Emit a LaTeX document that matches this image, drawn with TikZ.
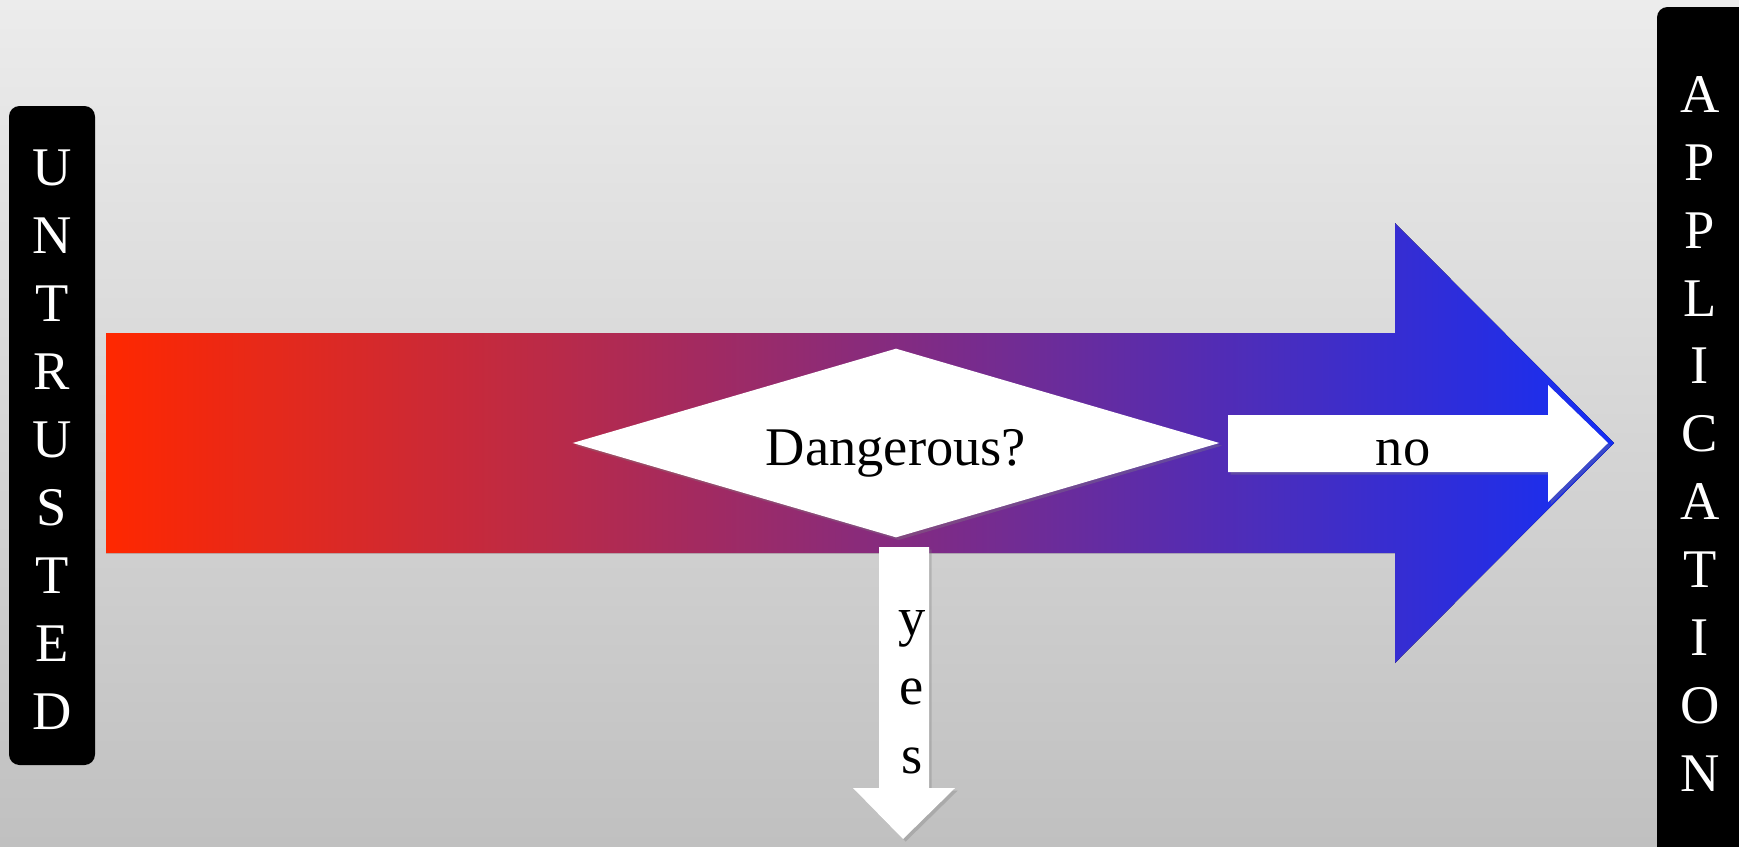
\documentclass[tikz,border=0pt]{standalone}
\usepackage{fontspec}
\setmainfont{Liberation Serif}
\usetikzlibrary{shapes.geometric}
\usetikzlibrary{shadows}
\pgfdeclarelayer{edgelayer}
\pgfdeclarelayer{nodelayer}
\pgfsetlayers{edgelayer,nodelayer,main}
\definecolor{bgtop}{RGB}{236,236,236}
\definecolor{bgbottom}{RGB}{192,192,192}
\definecolor{flowred}{RGB}{255,40,0}
\definecolor{flowpurple}{RGB}{138,30,152}
\definecolor{flowblue}{RGB}{20,46,245}
\tikzstyle{bar}=[fill=black,rounded corners=6pt]
\tikzstyle{barletters}=[text=white,font=\fontsize{31}{38.7}\selectfont,align=center,inner sep=0pt]
\tikzstyle{flow}=[left color=flowred,middle color=flowpurple,right color=flowblue]
\tikzstyle{branch}=[fill=white,drop shadow={opacity=0.35,shadow xshift=1.5pt,shadow yshift=-1.5pt}]
\tikzstyle{question}=[shape=diamond,style=branch,inner sep=0pt,aspect=3.42,minimum width=12.94cm,minimum height=3.78cm,font=\fontsize{31}{37}\selectfont,text height=26pt,text depth=0pt]
\tikzstyle{answer}=[font=\fontsize{31}{39.3}\selectfont,align=center,inner sep=0pt]

\begin{document}
\begin{tikzpicture}[x=0.02cm,y=-0.02cm]
	\useasboundingbox (0,0) rectangle (1739,846);
	\begin{pgfonlayer}{edgelayer}
		\fill [top color=bgtop, bottom color=bgbottom] (0,0) rectangle (1739,846);
		\fill [style=bar] (9,106) rectangle (95,765);
		\fill [style=bar] (1657,7) rectangle (1770,880);
		\fill [style=flow] (106,333) -- (1395,333) -- (1395,223) -- (1614,443)
			-- (1395,663) -- (1395,553) -- (106,553) -- cycle;
		\fill [style=branch] (1228,415) -- (1548,415) -- (1548,385) -- (1608,443)
			-- (1548,502) -- (1548,472) -- (1228,472) -- cycle;
		\fill [style=branch] (879,547) -- (929,547) -- (929,788) -- (955,788)
			-- (903,839) -- (853,788) -- (879,788) -- cycle;
	\end{pgfonlayer}
	\begin{pgfonlayer}{nodelayer}
		\node [style=question] (0) at (896,443) {Dangerous?};
		\node [style=answer, anchor=base] (1) at (1403,465) {no};
		\node [style=answer] (2) at (912,692) {y\\e\\s};
		\node [style=barletters] (3) at (52,440) {U\\N\\T\\R\\U\\S\\T\\E\\D};
		\node [style=barletters] (4) at (1700,434) {A\\P\\P\\L\\I\\C\\A\\T\\I\\O\\N};
	\end{pgfonlayer}
\end{tikzpicture}
\end{document}
